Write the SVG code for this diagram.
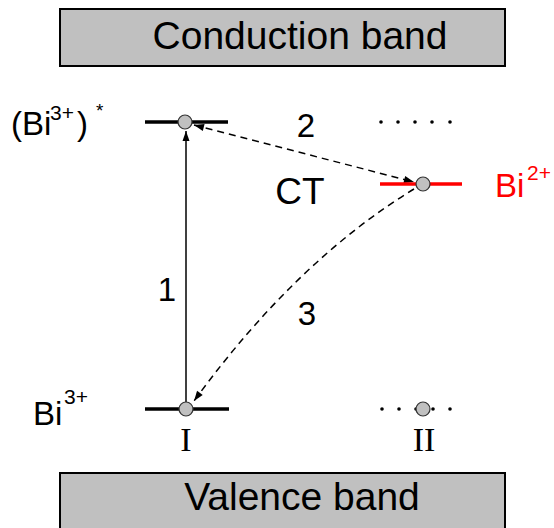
<svg xmlns="http://www.w3.org/2000/svg" width="554" height="528" viewBox="0 0 554 528">
<style>
.band{fill:#c0c0c0;stroke:#000;stroke-width:2}
.t{font-family:"Liberation Sans",Arial,sans-serif;fill:#000}
.r{font-family:"Liberation Sans",Arial,sans-serif;fill:#ff0000}
.s{font-family:"Liberation Serif","Times New Roman",serif;fill:#000}
.lvl{stroke:#000;stroke-width:3.5}
.dot{fill:#c0c0c0;stroke:#333;stroke-width:1.2}
.dash{fill:none;stroke:#000;stroke-width:1.5;stroke-dasharray:7 5}
.pt{fill:#000}
</style>
<defs>
<marker id="ah" viewBox="0 0 10 10" refX="10" refY="5" markerWidth="16" markerHeight="10" orient="auto-start-reverse" markerUnits="userSpaceOnUse">
<path d="M0,1.5 L10,5 L0,8.5 Z" fill="#000"/>
</marker>
</defs>
<g id="conduction-band">
<rect class="band" x="60" y="9" width="445" height="57"/>
<text class="t" x="300" y="49" font-size="39" text-anchor="middle">Conduction band</text>
</g>
<g id="valence-band">
<rect class="band" x="60" y="473" width="445" height="70"/>
<text class="t" x="302" y="510" font-size="39" text-anchor="middle">Valence band</text>
</g>
<g id="connectors">
<line x1="186" y1="402" x2="186" y2="131" stroke="#000" stroke-width="1.5" marker-end="url(#ah)"/>
<line class="dash" x1="194" y1="125" x2="414" y2="182" marker-start="url(#ah)" marker-end="url(#ah)"/>
<path class="dash" d="M414,189 Q296,261 194,401" marker-end="url(#ah)"/>
</g>
<g id="excited-level-I">
<line class="lvl" x1="145" y1="122" x2="228" y2="122"/>
<circle class="dot" cx="185" cy="122" r="7"/>
<text class="t" x="11" y="135" font-size="33">(Bi</text>
<text class="t" x="50" y="120" font-size="21">3+</text>
<text class="t" x="77" y="135" font-size="33">)</text>
<text class="t" x="96" y="117" font-size="19">*</text>
</g>
<g id="ground-level-I">
<line class="lvl" x1="145" y1="409" x2="229" y2="409"/>
<circle class="dot" cx="186" cy="409" r="7"/>
<text class="t" x="33" y="425" font-size="33">Bi</text>
<text class="t" x="64" y="404" font-size="21">3+</text>
<text class="s" x="186" y="451" font-size="34" text-anchor="middle">I</text>
</g>
<g id="level-Bi2">
<line x1="380" y1="184" x2="462" y2="184" stroke="#ff0000" stroke-width="3.5"/>
<circle class="dot" cx="423" cy="184" r="7"/>
<text class="r" x="495" y="197" font-size="33">Bi</text>
<text class="r" x="527" y="180" font-size="21">2+</text>
</g>
<g id="excited-level-II">
<circle class="pt" cx="381" cy="122" r="1.8"/>
<circle class="pt" cx="398" cy="122" r="1.8"/>
<circle class="pt" cx="415" cy="122" r="1.8"/>
<circle class="pt" cx="432" cy="122" r="1.8"/>
<circle class="pt" cx="450" cy="122" r="1.8"/>
</g>
<g id="ground-level-II">
<circle class="pt" cx="382" cy="409" r="1.8"/>
<circle class="pt" cx="399" cy="409" r="1.8"/>
<circle class="pt" cx="416" cy="409" r="1.8"/>
<circle class="pt" cx="433" cy="409" r="1.8"/>
<circle class="pt" cx="450" cy="409" r="1.8"/>
<circle class="dot" cx="423" cy="409" r="7"/>
<text class="s" x="424" y="451" font-size="34" text-anchor="middle">II</text>
</g>
<g id="labels">
<text class="t" x="167" y="301" font-size="33" text-anchor="middle">1</text>
<text class="t" x="306" y="137" font-size="33" text-anchor="middle">2</text>
<text class="t" x="307" y="325" font-size="33" text-anchor="middle">3</text>
<text class="t" x="300" y="204" font-size="37" text-anchor="middle">CT</text>
</g>
</svg>
